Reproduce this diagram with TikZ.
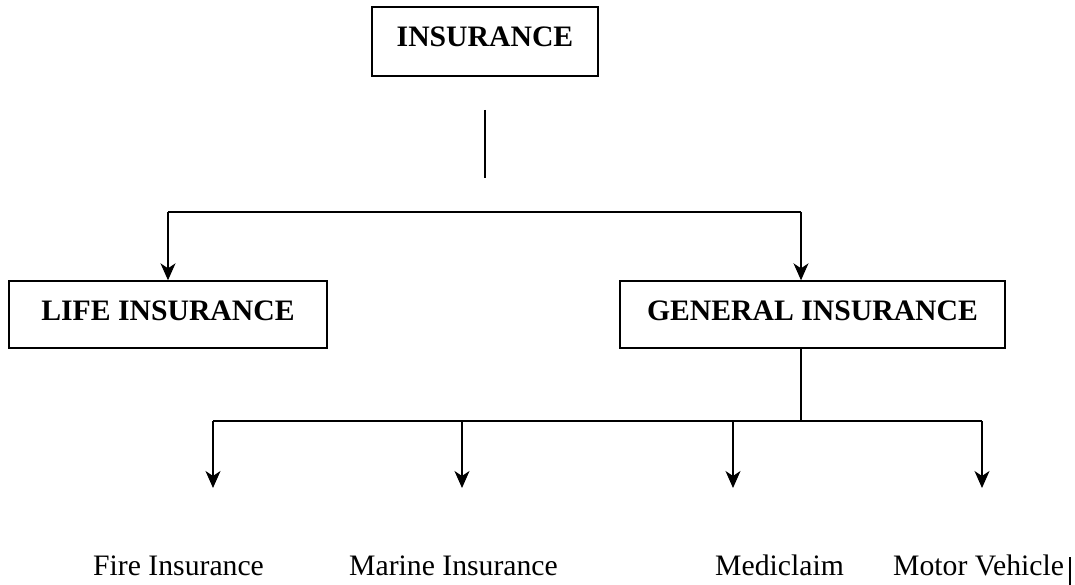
\documentclass[tikz,border=0pt]{standalone}
\usepackage{fontspec}
\setmainfont{Liberation Serif}
\usetikzlibrary{arrows.meta}
\begin{document}
\begin{tikzpicture}[x=1pt,y=-1pt,
  box/.style={draw, line width=1.4pt, inner sep=0pt, anchor=base,
    font=\fontsize{29.7}{32}\selectfont\bfseries, text height=40pt, text depth=29pt},
  lbl/.style={inner sep=0pt, anchor=base west, font=\fontsize{29.7}{32}\selectfont},
  conn/.style={line width=1.4pt},
  arr/.style={line width=1.4pt, -{Stealth[length=17pt,width=15pt,inset=5pt]}}]
\useasboundingbox[fill=white] (0,0) rectangle (1075,585);

\node[box, minimum width=226pt] (ins) at (485,47) {INSURANCE};
\node[box, minimum width=318pt, text height=39pt, text depth=28pt] (life) at (168,320) {LIFE INSURANCE};
\node[box, minimum width=385pt, text height=39pt, text depth=28pt] (gen) at (812.5,320) {GENERAL INSURANCE};

\node[lbl] (fire) at (93,575) {Fire Insurance};
\node[lbl] (marine) at (349,575) {Marine Insurance};
\node[lbl] (medi) at (715,575) {Mediclaim};
\node[lbl] (motor) at (893,575) {Motor Vehicle};

% stand-alone stem below INSURANCE
\coordinate (s1) at (485,110);
\coordinate (s2) at (485,178);
\draw[conn] (s1) -- (s2);

% first level
\coordinate (a1) at (168,212);
\coordinate (a2) at (801,212);
\draw[conn] (a1) -- (a2);
\draw[arr] (a1) -- (a1 |- life.north);
\draw[arr] (a2) -- (a2 |- gen.north);

% second level
\coordinate (g0) at (801,348);
\coordinate (g1) at (801,421);
\coordinate (b1) at (213,421);
\coordinate (b2) at (462,421);
\coordinate (b3) at (733,421);
\coordinate (b4) at (982,421);
\draw[conn] (g0) -- (g1);
\draw[conn] (b1) -- (b4);
\foreach \c/\e in {b1/e1,b2/e2,b3/e3,b4/e4}{
  \coordinate (\e) at ([yshift=-67pt]\c);
  \draw[arr] (\c) -- (\e);
}

% text cursor mark after "Motor Vehicle"
\coordinate (c1) at (1070,557);
\coordinate (c2) at (1070,585);
\draw[line width=1.5pt] (c1) -- (c2);
\end{tikzpicture}
\end{document}
